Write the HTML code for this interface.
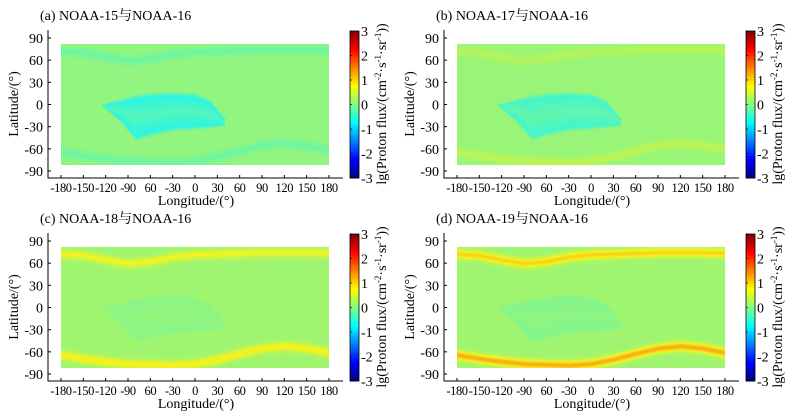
<!DOCTYPE html>
<html><head><meta charset="utf-8"><style>
body{margin:0;background:#fff;width:803px;height:417px;overflow:hidden;position:relative;font-family:"Liberation Serif","Noto Serif CJK SC",serif}
canvas{position:absolute}
svg{position:absolute;left:0;top:0}
</style></head><body>
<svg id="chart" width="803" height="417" font-family="Liberation Serif, Noto Serif CJK SC, serif" font-size="14"></svg>
<script>
// ---- data ----
const panelTitles = ["(a) NOAA-15与NOAA-16","(b) NOAA-17与NOAA-16","(c) NOAA-18与NOAA-16","(d) NOAA-19与NOAA-16"];
const xTickLabels = ["-180","-150","-120","-90","60","-30","0","30","60","90","120","150","180"];
const xTickValues = [-180,-150,-120,-90,-60,-30,0,30,60,90,120,150,180];
const yTickValues = [90,60,30,0,-30,-60,-90];
const cbarTicks = [3,2,1,0,-1,-2,-3];
// band centre latitudes along longitude
const bandLons = [-180,-150,-120,-90,-60,-30,0,30,60,90,120,150,180];
const northBandLat = [73,71,65,60,63,69,72,73,74,75,75,75,74];
const southBandLat = [-64,-69,-73,-76,-77,-78,-76,-70,-62,-55,-52,-55,-61];
// amplitude of bands per panel
const northAmp = [-0.25,0.2,0.55,0.85];
const southAmp = [-0.25,0.25,0.65,1.1];
const background = [0.05,0.1,0.15,0.15];
// SAA region: per lon top & bottom latitude
const saaLons = [-125,-100,-80,-60,-30,0,20,40];
const saaTop = [0,4,7,10,12,10,2,-20];
const saaBottom = [-1,-20,-42,-36,-30,-28,-27,-27];
const saaAmp = [-0.7,-0.6,-0.15,-0.2];

const offsets=[[0,0],[396,0],[0,203],[396,203]];
const svg=document.getElementById('chart');
const NS='http://www.w3.org/2000/svg';
function mk(tag,attrs,parent,text){const e=document.createElementNS(NS,tag);for(const k in attrs)e.setAttribute(k,attrs[k]);if(text!=null)e.textContent=text;(parent||svg).appendChild(e);return e;}
function interp(xs,ys,x){if(x<=xs[0])return ys[0];for(let i=1;i<xs.length;i++){if(x<=xs[i]){const t=(x-xs[i-1])/(xs[i]-xs[i-1]);return ys[i-1]+t*(ys[i]-ys[i-1]);}}return ys[ys.length-1];}
function jet(v){const x=Math.max(0,Math.min(1,(v+3)/6));const c=f=>Math.round(255*Math.max(0,Math.min(1,f)));return [c(1.5-Math.abs(4*x-3)),c(1.5-Math.abs(4*x-2)),c(1.5-Math.abs(4*x-1))];}
function soft(c){return [Math.round(c[0]*0.85+200*0.15),Math.round(c[1]*0.85+190*0.15),Math.round(c[2]*0.85+170*0.15)];}

panelTitles.forEach((title,p)=>{
  const [ox,oy]=offsets[p];
  const g=mk('g',{},svg);
  
  
  const xs=lon=>ox+61+(lon+180)/360*268;
  const ys=lat=>oy+104.5-lat*133/180;
  const cv=document.createElement('canvas');
  
  
  const x0=xs(-180),x1=xs(180),y0=ys(82),y1=ys(-82);
  cv.width=Math.round(x1-x0);cv.height=Math.round(y1-y0);
  cv.style.left=x0+'px';cv.style.top=y0+'px';
  const ctx=cv.getContext('2d');
  const img=ctx.createImageData(cv.width,cv.height);
  for(let j=0;j<cv.height;j++){for(let i=0;i<cv.width;i++){
    const lon=-180+i/cv.width*360, lat=82-j/cv.height*164;
    let v=background[p];
    const dn=lat-interp(bandLons,northBandLat,lon), ds=lat-interp(bandLons,southBandLat,lon);
    v+=northAmp[p]*Math.exp(-(dn/6)*(dn/6));
    v+=southAmp[p]*Math.exp(-(ds/6)*(ds/6));
    if(lon>=saaLons[0]&&lon<=saaLons[saaLons.length-1]){
      const t=interp(saaLons,saaTop,lon),b=interp(saaLons,saaBottom,lon);
      const m=(t+b)/2,h=(t-b)/2+0.5;const d=Math.abs(lat-m)/h;
      if(d<1.3){const w=d<1?1:(1.3-d)/0.3;v+=saaAmp[p]*w*(0.6+0.4*Math.min(d,1));}
    }
    const c=soft(jet(v));const k=(j*cv.width+i)*4;img.data[k]=c[0];img.data[k+1]=c[1];img.data[k+2]=c[2];img.data[k+3]=255;
  }}
  ctx.putImageData(img,0,0);
  document.body.appendChild(cv);
  const tt=mk('text',{x:ox+40,y:oy+20},g,title);
  
  const ax=mk('path',{d:`M${ox+48} ${oy+30}V${oy+178}H${ox+343}`,stroke:'#000',fill:'none','stroke-width':1},g);
  
  xTickValues.forEach((v,i)=>{const x=xs(v);
    mk('line',{x1:x,x2:x,y1:oy+178,y2:oy+175,stroke:'#000'},g);
    const t=mk('text',{x:x,y:oy+192,'text-anchor':'middle','font-size':12.5,'letter-spacing':-0.4},g,xTickLabels[i]);
    });
  yTickValues.forEach(v=>{const y=ys(v);
    mk('line',{x1:ox+48,x2:ox+51,y1:y,y2:y,stroke:'#000'},g);
    const t=mk('text',{x:ox+43,y:y+5,'text-anchor':'end'},g,String(v));
    });
  const xl=mk('text',{x:ox+196,y:oy+205,'text-anchor':'middle'},g,'Longitude/(°)');
  
  const yl=mk('text',{x:0,y:0,'text-anchor':'middle',transform:`translate(${ox+18},${oy+104}) rotate(-90)`},g,'Latitude/(°)');
  
  const cbx=ox+350,cbt=oy+31,cbb=oy+178,cbw=9;
  const steps=60;
  for(let s=0;s<steps;s++){const v=3-6*(s+0.5)/steps;const c=jet(v);
    mk('rect',{x:cbx,y:cbt+(cbb-cbt)*s/steps,width:cbw,height:(cbb-cbt)/steps+0.5,fill:`rgb(${c})`},g);}
  const cbf=mk('rect',{x:cbx,y:cbt,width:cbw,height:cbb-cbt,fill:'none',stroke:'#000','stroke-width':0.8},g);
  
  cbarTicks.forEach(v=>{const y=cbt+(3-v)/6*(cbb-cbt);
    mk('line',{x1:cbx,x2:cbx+2,y1:y,y2:y,stroke:'#000','stroke-width':0.6},g);
    const t=mk('text',{x:cbx+11,y:y+5},g,String(v));
    });
  const cl=mk('text',{x:0,y:0,'text-anchor':'middle',transform:`translate(${ox+386},${oy+104}) rotate(-90)`},g);
  cl.innerHTML='lg(Proton flux/(cm<tspan font-size="9" dy="-5">-2</tspan><tspan dy="5">·s</tspan><tspan font-size="9" dy="-5">-1</tspan><tspan dy="5">·sr</tspan><tspan font-size="9" dy="-5">-1</tspan><tspan dy="5">))</tspan>';
  
});
</script>
</body></html>
